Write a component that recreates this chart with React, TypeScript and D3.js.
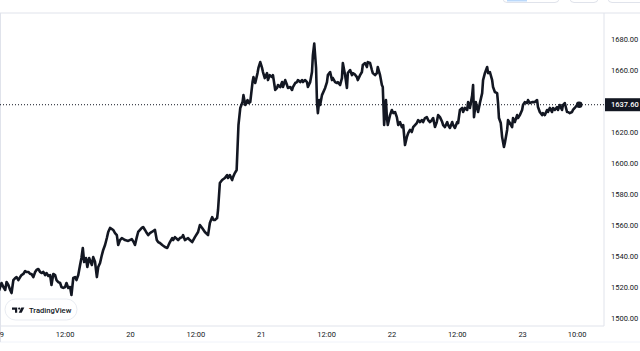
import React, { useEffect, useRef } from "react";
import * as d3 from "d3";

// price readings per day, [time, close]
const day19: [string, number][] = [
  ["00:00", 1518.1], ["00:25", 1522.6], ["00:45", 1520.0], ["01:05", 1518.1], ["01:20", 1523.2],
  ["01:40", 1521.3], ["02:00", 1518.1], ["02:15", 1516.1], ["02:35", 1524.5], ["02:55", 1525.8],
  ["03:10", 1526.4], ["03:30", 1524.5], ["03:50", 1526.4], ["04:05", 1527.7], ["04:25", 1528.4],
  ["04:45", 1530.3], ["05:00", 1529.7], ["05:20", 1529.7], ["05:40", 1528.4], ["05:55", 1528.4],
  ["06:15", 1526.4], ["06:35", 1529.7], ["06:50", 1531.0], ["07:10", 1531.6], ["07:30", 1529.7],
  ["07:45", 1529.0], ["08:05", 1529.7], ["08:25", 1527.7], ["08:40", 1529.0], ["09:00", 1527.1],
  ["09:20", 1527.7], ["09:35", 1521.3], ["09:55", 1528.4], ["10:15", 1527.7], ["10:30", 1524.5],
  ["10:50", 1523.2], ["11:10", 1522.6], ["11:25", 1520.0], ["11:45", 1519.4], ["12:05", 1520.0],
  ["12:20", 1522.6], ["12:40", 1519.4], ["13:00", 1520.0], ["13:15", 1514.8], ["13:35", 1525.8],
  ["13:55", 1526.4], ["14:10", 1524.5], ["14:30", 1527.7], ["14:50", 1534.2], ["15:05", 1538.7],
  ["15:20", 1545.2], ["15:35", 1536.1], ["15:55", 1538.7], ["16:10", 1532.9], ["16:30", 1538.7],
  ["17:00", 1534.2], ["17:15", 1539.3], ["17:35", 1536.1], ["17:55", 1526.4], ["18:10", 1532.9],
  ["18:30", 1535.5], ["18:50", 1540.6], ["19:05", 1543.9], ["19:25", 1547.1], ["19:45", 1551.6],
  ["20:00", 1555.5], ["20:20", 1558.1], ["20:40", 1557.4], ["20:55", 1556.8], ["21:15", 1554.8],
  ["21:35", 1553.5], ["21:50", 1547.1], ["22:10", 1550.3], ["22:30", 1551.6], ["23:05", 1550.3],
  ["23:40", 1549.7],
];

const day20: [string, number][] = [
  ["00:20", 1550.9], ["00:40", 1549.0], ["00:55", 1547.1], ["01:15", 1552.2], ["01:30", 1555.5],
  ["01:50", 1556.8], ["02:10", 1558.1], ["02:25", 1558.7], ["02:45", 1556.8], ["03:05", 1554.8],
  ["03:20", 1553.5], ["03:40", 1554.8], ["04:00", 1555.5], ["04:35", 1556.8], ["04:55", 1550.3],
  ["05:10", 1549.0], ["05:30", 1548.4], ["05:55", 1547.1], ["06:25", 1545.8], ["06:50", 1545.2],
  ["07:00", 1546.4], ["07:20", 1549.0], ["07:45", 1551.6], ["07:55", 1550.3], ["08:15", 1552.2],
  ["08:50", 1550.3], ["09:10", 1551.6], ["09:35", 1552.2], ["09:45", 1553.5], ["10:05", 1550.3],
  ["10:40", 1551.6], ["11:00", 1550.3], ["11:25", 1549.0], ["11:55", 1552.2], ["12:30", 1555.5],
  ["12:50", 1560.0], ["13:15", 1558.1], ["13:45", 1555.5], ["14:20", 1553.5], ["14:40", 1561.3],
  ["15:05", 1565.1], ["15:20", 1563.2], ["15:35", 1563.2], ["16:00", 1564.5], ["16:10", 1569.7],
  ["16:30", 1587.1], ["16:55", 1589.0], ["17:25", 1590.3], ["17:50", 1592.2], ["18:00", 1590.3],
  ["18:20", 1592.2], ["18:45", 1589.0], ["18:55", 1590.9], ["19:15", 1593.5], ["19:35", 1595.5],
  ["19:55", 1624.5], ["20:15", 1635.5], ["20:40", 1639.3], ["20:50", 1643.8], ["21:10", 1637.4],
  ["21:35", 1640.6], ["21:45", 1638.7], ["22:05", 1639.3], ["22:30", 1652.2], ["22:40", 1655.4],
  ["23:00", 1651.6], ["23:25", 1658.0], ["23:35", 1661.3], ["23:55", 1665.1],
];

const day21: [string, number][] = [
  ["00:15", 1661.3], ["00:25", 1658.7], ["00:45", 1654.8], ["01:10", 1658.0], ["01:20", 1653.5],
  ["01:40", 1656.7], ["02:05", 1655.4], ["02:15", 1656.7], ["02:40", 1647.1], ["03:00", 1648.4],
  ["03:10", 1650.3], ["03:35", 1649.0], ["03:55", 1652.2], ["04:05", 1649.0], ["04:30", 1653.5],
  ["04:50", 1650.3], ["05:00", 1648.4], ["05:25", 1649.0], ["05:45", 1647.1], ["05:55", 1649.0],
  ["06:20", 1651.6], ["06:40", 1652.2], ["06:50", 1653.5], ["07:15", 1652.2], ["07:35", 1653.5],
  ["07:45", 1652.2], ["08:10", 1653.5], ["08:30", 1652.2], ["08:40", 1649.0], ["09:05", 1652.2],
  ["09:25", 1658.7], ["09:35", 1669.6], ["09:50", 1677.0], ["10:10", 1661.3], ["10:20", 1639.3],
  ["10:30", 1632.2], ["10:45", 1640.6], ["10:55", 1637.4], ["11:15", 1643.8], ["11:25", 1645.1],
  ["11:50", 1648.4], ["12:10", 1652.2], ["12:20", 1656.7], ["12:45", 1658.7], ["13:05", 1653.5],
  ["13:15", 1654.8], ["13:40", 1652.2], ["14:00", 1651.6], ["14:10", 1652.2], ["14:35", 1650.3],
  ["14:55", 1654.8], ["15:05", 1664.5], ["15:30", 1656.7], ["15:50", 1648.4], ["16:00", 1658.0],
  ["16:25", 1660.0], ["16:45", 1656.7], ["16:55", 1658.0], ["17:20", 1657.0], ["17:40", 1655.4],
  ["17:50", 1653.5], ["18:15", 1656.7], ["18:35", 1658.7], ["18:45", 1663.2], ["19:10", 1664.5],
  ["19:30", 1661.9], ["19:40", 1665.1], ["20:05", 1664.5], ["20:25", 1660.0], ["20:35", 1658.0],
  ["21:00", 1656.7], ["21:20", 1658.0], ["21:30", 1661.9], ["21:55", 1656.7], ["22:15", 1650.3],
  ["22:25", 1649.0], ["22:40", 1624.5], ["23:00", 1640.6], ["23:10", 1629.6], ["23:20", 1624.5],
  ["23:45", 1630.9],
];

const day22: [string, number][] = [
  ["00:05", 1634.2], ["00:20", 1632.2], ["00:40", 1632.9], ["01:00", 1629.6], ["01:15", 1624.5],
  ["01:35", 1626.4], ["01:55", 1623.2], ["02:10", 1624.5], ["02:30", 1611.6], ["02:50", 1616.7],
  ["03:05", 1619.3], ["03:25", 1621.3], ["03:45", 1620.0], ["04:00", 1623.2], ["04:20", 1624.5],
  ["04:40", 1625.8], ["04:55", 1627.7], ["05:15", 1626.4], ["05:35", 1627.7], ["05:50", 1626.4],
  ["06:10", 1629.0], ["06:30", 1629.6], ["06:45", 1627.7], ["07:05", 1626.4], ["07:25", 1627.7],
  ["07:40", 1629.0], ["08:00", 1623.2], ["08:20", 1626.4], ["08:35", 1630.9], ["08:55", 1629.6],
  ["09:20", 1626.4], ["09:30", 1624.5], ["09:50", 1623.2], ["10:15", 1626.4], ["10:25", 1624.5],
  ["10:45", 1622.6], ["11:10", 1626.4], ["11:20", 1624.5], ["11:40", 1622.6], ["12:05", 1626.4],
  ["12:15", 1625.8], ["12:35", 1634.2], ["13:00", 1635.5], ["13:10", 1632.9], ["13:30", 1635.5],
  ["13:55", 1634.2], ["14:05", 1639.3], ["14:25", 1635.5], ["14:50", 1643.8], ["15:00", 1650.3],
  ["15:10", 1629.6], ["15:30", 1639.3], ["15:45", 1635.5], ["15:55", 1632.9], ["16:15", 1638.7],
  ["16:40", 1645.1], ["16:50", 1653.5], ["17:10", 1658.0], ["17:35", 1661.9], ["17:45", 1658.0],
  ["18:05", 1658.7], ["18:30", 1653.5], ["18:40", 1649.0], ["19:00", 1645.8], ["19:25", 1645.1],
  ["19:35", 1638.7], ["19:45", 1629.0], ["20:05", 1625.8], ["20:20", 1616.7], ["20:40", 1610.3],
  ["20:50", 1612.9], ["21:15", 1621.3], ["21:25", 1627.7], ["21:45", 1625.8], ["22:10", 1623.2],
  ["22:20", 1629.0], ["22:40", 1626.4], ["23:05", 1630.9], ["23:15", 1629.0], ["23:35", 1630.9],
];

const day23: [string, number][] = [
  ["00:00", 1634.2], ["00:10", 1637.4], ["00:30", 1639.3], ["00:55", 1638.7], ["01:05", 1640.6],
  ["01:25", 1638.7], ["01:50", 1639.3], ["02:00", 1639.3], ["02:20", 1639.3], ["02:45", 1640.6],
  ["02:55", 1636.1], ["03:15", 1632.9], ["03:40", 1630.9], ["03:50", 1632.2], ["04:10", 1630.9],
  ["04:35", 1634.2], ["04:45", 1632.9], ["05:05", 1635.5], ["05:30", 1632.9], ["05:40", 1635.5],
  ["06:00", 1634.2], ["06:25", 1636.1], ["06:35", 1634.2], ["06:55", 1637.4], ["07:20", 1634.2],
  ["07:30", 1637.4], ["07:50", 1638.7], ["08:15", 1632.9], ["08:25", 1632.9], ["08:45", 1632.2],
  ["09:10", 1632.9], ["09:20", 1634.2], ["09:40", 1635.5], ["10:05", 1637.4], ["10:15", 1638.7],
  ["10:30", 1637.6],
];

const days: [number, [string, number][]][] = [
  [19, day19], [20, day20], [21, day21], [22, day22], [23, day23],
];

const timeTicks: [number, string][] = [
  [19, "00:00"], [19, "12:00"], [20, "00:00"], [20, "12:00"], [21, "00:00"],
  [21, "12:00"], [22, "00:00"], [22, "12:00"], [23, "00:00"], [23, "10:00"],
];
const priceTicks = [1500, 1520, 1540, 1560, 1580, 1600, 1620, 1660, 1680];
const lastPrice = 1637.6;

const toDate = (day: number, hm: string) => {
  const [h, m] = hm.split(":").map(Number);
  return new Date(2023, 9, day, h, m);
};

const FONT = "Roboto, 'Liberation Sans', sans-serif";
const INK = "#131722";
const BORDER = "#e0e3eb";

export default function App() {
  const svgRef = useRef<SVGSVGElement>(null);

  useEffect(() => {
    const width = 640;
    const height = 351;
    const plotRight = 604;
    const plotTop = 13;
    const plotBottom = 326;

    const svg = d3
      .select(svgRef.current)
      .attr("width", width)
      .attr("height", height)
      .style("position", "fixed")
      .style("left", "0px")
      .style("top", "0px")
      .style("background", "#ffffff");
    svg.selectAll("*").remove();

    const xScale = d3
      .scaleTime()
      .domain([toDate(19, "00:00"), toDate(23, "00:00")])
      .range([-0.7, 522.1]);
    const yScale = d3.scaleLinear().domain([1500, 1680]).range([318, 39]);

    const points = days.flatMap(([d, rows]) =>
      rows.map(([t, v]) => ({ date: toDate(d, t), value: v }))
    );

    // toolbar buttons peeking in at the top
    const buttons = [
      [503, 56],
      [570, 28],
      [608, 40],
    ];
    buttons.forEach(([bx, bw]) => {
      svg
        .append("rect")
        .attr("x", bx)
        .attr("y", -10)
        .attr("width", bw)
        .attr("height", 12.5)
        .attr("rx", 4)
        .attr("fill", "#fff")
        .attr("stroke", BORDER);
    });
    svg
      .append("rect")
      .attr("x", 507)
      .attr("y", 0)
      .attr("width", 20)
      .attr("height", 1.5)
      .attr("fill", "#bbd9fb");

    // frame
    svg.append("line").attr("x1", 0).attr("x2", width).attr("y1", plotTop).attr("y2", plotTop).attr("stroke", BORDER);
    svg.append("line").attr("x1", plotRight).attr("x2", plotRight).attr("y1", plotTop).attr("y2", plotBottom).attr("stroke", BORDER);
    svg.append("line").attr("x1", 0).attr("x2", plotRight).attr("y1", plotBottom).attr("y2", plotBottom).attr("stroke", BORDER);
    svg.append("line").attr("x1", 0).attr("x2", width).attr("y1", 342).attr("y2", 342).attr("stroke", "#f0f3fa");
    svg.append("line").attr("x1", 0.5).attr("x2", 0.5).attr("y1", plotTop).attr("y2", 342).attr("stroke", BORDER);

    svg
      .append("clipPath")
      .attr("id", "plot-clip")
      .append("rect")
      .attr("x", 0)
      .attr("y", plotTop)
      .attr("width", plotRight)
      .attr("height", plotBottom - plotTop);

    // last price dotted line
    svg
      .append("line")
      .attr("x1", 0)
      .attr("x2", plotRight)
      .attr("y1", yScale(lastPrice))
      .attr("y2", yScale(lastPrice))
      .attr("stroke", INK)
      .attr("stroke-width", 1)
      .attr("stroke-dasharray", "1,2");

    const line = d3
      .line<{ date: Date; value: number }>()
      .x((d) => xScale(d.date))
      .y((d) => yScale(d.value));

    svg
      .append("path")
      .datum(points)
      .attr("clip-path", "url(#plot-clip)")
      .attr("d", line)
      .attr("fill", "none")
      .attr("stroke", INK)
      .attr("stroke-width", 2.6)
      .attr("stroke-linejoin", "round")
      .attr("stroke-linecap", "round");

    const last = points[points.length - 1];
    svg
      .append("circle")
      .attr("cx", xScale(last.date))
      .attr("cy", yScale(last.value))
      .attr("r", 3.2)
      .attr("fill", INK);

    // price axis
    const yAxis = d3
      .axisRight(yScale)
      .tickValues(priceTicks)
      .tickSize(0)
      .tickPadding(7)
      .tickFormat((d) => d3.format(".2f")(d as number));
    const yAxisG = svg.append("g").attr("transform", `translate(${plotRight}, 0)`).call(yAxis);
    yAxisG.select(".domain").remove();
    yAxisG.selectAll("text").attr("font-family", FONT).attr("font-size", 7.5).attr("fill", INK);

    svg
      .append("rect")
      .attr("x", plotRight + 1)
      .attr("y", yScale(lastPrice) - 6.5)
      .attr("width", width - plotRight)
      .attr("height", 13)
      .attr("fill", INK);
    svg
      .append("text")
      .attr("x", plotRight + 7)
      .attr("y", yScale(lastPrice))
      .attr("dy", "0.35em")
      .attr("font-family", FONT)
      .attr("font-size", 7.5)
      .attr("font-weight", 500)
      .attr("fill", "#fff")
      .text(d3.format(".2f")(lastPrice));

    // time axis
    const xAxis = d3
      .axisBottom(xScale)
      .tickValues(timeTicks.map(([d, t]) => toDate(d, t)))
      .tickSize(0)
      .tickPadding(6)
      .tickFormat((d) => {
        const dt = d as Date;
        return dt.getHours() === 0 && dt.getMinutes() === 0 ? String(dt.getDate()) : d3.timeFormat("%H:%M")(dt);
      });
    const xAxisG = svg.append("g").attr("transform", `translate(0, ${plotBottom})`).call(xAxis);
    xAxisG.select(".domain").remove();
    xAxisG.selectAll("text").attr("font-family", FONT).attr("font-size", 7.5).attr("fill", INK);

    // TradingView badge
    const badge = svg.append("g").attr("transform", "translate(5, 299)");
    badge
      .append("rect")
      .attr("width", 72)
      .attr("height", 21)
      .attr("rx", 10.5)
      .attr("fill", "#fff")
      .attr("stroke", "#e9ecf2");
    badge.append("path").attr("d", "M7 8.5h5.2v5.2h-2.2v-3h-3z").attr("fill", INK);
    badge.append("circle").attr("cx", 14.2).attr("cy", 9.6).attr("r", 1.1).attr("fill", INK);
    badge.append("path").attr("d", "M16.3 8.5h3l-2.6 5.2h-3z").attr("fill", INK);
    badge
      .append("text")
      .attr("x", 24)
      .attr("y", 13.6)
      .attr("font-family", FONT)
      .attr("font-size", 7.6)
      .attr("font-weight", 500)
      .attr("fill", INK)
      .text("TradingView");
  }, []);

  return (
    <div id="price-chart">
      <svg ref={svgRef}></svg>
    </div>
  );
}
